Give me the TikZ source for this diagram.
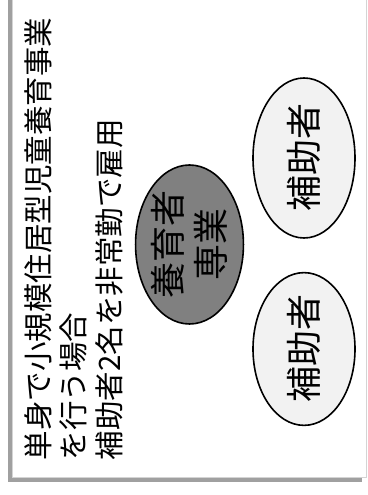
\documentclass[tikz,border=0pt]{standalone}
\usepackage{fontspec}
\usepackage{xcolor}
\usetikzlibrary{shapes.geometric}
\newfontfamily\jpfont{Noto Sans CJK JP}
\definecolor{dShadow}{HTML}{A0A0A0}
\definecolor{dEdge}{HTML}{D4D4D4}
\definecolor{dDark}{HTML}{808080}
\definecolor{dLight}{HTML}{F2F2F2}
\tikzset{
    person/.style={
            ellipse,
            draw=black,
            line width=1.6pt,
            fill={#1},
            inner sep=0pt, % text sits in the middle
            minimum width=158pt, % long axis, upright after rotating
            minimum height=102pt,
            rotate=90,
            font=\jpfont\fontsize{36}{43}\selectfont,
            align=center
        },
    person/.default={dLight}
}
\tikzset{
    lead/.style={
            rotate=90,
            anchor=north west,
            inner sep=0pt,
            align=left,
            font=\jpfont\fontsize{29.5}{35.3}\selectfont
        }
}
\begin{document}
\begin{tikzpicture}[x=1pt,y=1pt]
    \useasboundingbox (0,0) rectangle (367,495);
    \clip (0,0) rectangle (367,495);
    % frame and its shadow
    \fill[dShadow] (8,13) rectangle (362,505);
    \draw[dEdge,fill=white,line width=0.8pt] (12,18) rectangle (366,505);
    % heading
    \node[lead] (caption) at (24.5,34.5)
    {単身で小規模住居型児童養育事業\\を行う場合\\補助者2名を非常勤で雇用};
    % people
    \node[person=dDark,minimum width=159pt] (main) at (189.5,250.5) {養育者\\専業};
    \node[person,minimum width=160pt] (helperA) at (304,337) {補助者};
    \node[person,minimum width=152pt] (helperB) at (304,146) {補助者};
\end{tikzpicture}
\end{document}
